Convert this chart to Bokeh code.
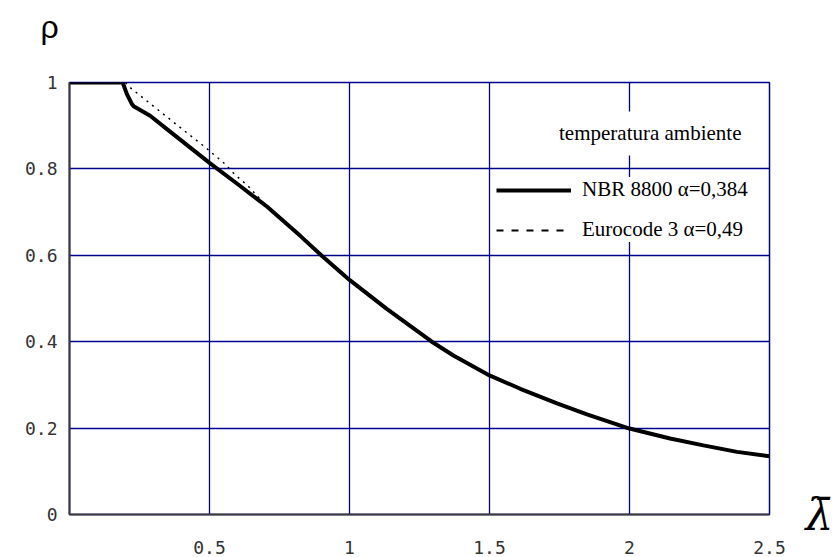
from bokeh.plotting import figure
from bokeh.models import Range1d, FixedTicker, Legend, LegendItem, Label, LinearAxis
from bokeh.embed import file_html
from bokeh.resources import INLINE

# ---- data ----
lam_nbr = [0.0, 0.19, 0.205, 0.223, 0.229, 0.288, 0.348, 0.42, 0.5, 0.6,
           0.705, 0.824, 0.901, 1.0, 1.133, 1.294, 1.371, 1.5, 1.61,
           1.741, 1.848, 2.0, 2.145, 2.264, 2.384, 2.5]
rho_nbr = [1.0, 1.0, 0.973, 0.950, 0.945, 0.923, 0.892, 0.855, 0.814, 0.765,
           0.713, 0.645, 0.599, 0.543, 0.476, 0.40, 0.368, 0.322, 0.291,
           0.257, 0.232, 0.199, 0.176, 0.16, 0.145, 0.135]

lam_ec = [0.0, 0.2, 0.217, 0.395, 0.485, 0.514, 0.556, 0.592, 0.637, 0.705,
          0.824, 0.901, 1.0, 1.133, 1.294, 1.371, 1.5, 1.61, 1.741, 1.848,
          2.0, 2.145, 2.264, 2.384, 2.5]
rho_ec = [1.0, 1.0, 0.988, 0.896, 0.850, 0.834, 0.811, 0.786, 0.761, 0.713,
          0.645, 0.599, 0.543, 0.476, 0.40, 0.368, 0.322, 0.291, 0.257, 0.232,
          0.199, 0.176, 0.16, 0.145, 0.135]

x_ticks = [0.5, 1.0, 1.5, 2.0, 2.5]
x_tick_labels = ["0.5", "1", "1.5", "2", "2.5"]
y_ticks = [0.0, 0.2, 0.4, 0.6, 0.8, 1.0]
y_tick_labels = ["0", "0.2", "0.4", "0.6", "0.8", "1"]

x_title = "λ\u0304"
y_title = "ρ"
label_nbr = "NBR 8800 α=0,384"
label_ec = "Eurocode 3 α=0,49"
legend_title = "temperatura ambiente"

NAVY = "#00008f"
TICK_FONT = "DejaVu Sans Mono"

p = figure(width=839, height=557, output_backend="svg", toolbar_location=None,
           x_range=Range1d(0, 2.5), y_range=Range1d(0, 1),
           min_border_left=69, min_border_right=70, min_border_top=82,
           min_border_bottom=43)

p.background_fill_color = "white"
p.border_fill_color = "white"
p.outline_line_color = NAVY
p.outline_line_width = 1.5

# title used for the rho symbol (second empty line lifts it upward)
p.title.text = y_title + "\n "
p.title.align = "left"
p.title.offset = -29
p.title.standoff = 4
p.title.text_font = "Liberation Sans"
p.title.text_font_style = "normal"
p.title.text_font_size = "32px"
p.title.text_color = "black"

# grid
p.xgrid.ticker = FixedTicker(ticks=x_ticks)
p.ygrid.ticker = FixedTicker(ticks=y_ticks)
for g in (p.xgrid, p.ygrid):
    g.grid_line_color = NAVY
    g.grid_line_width = 1.3
    g.grid_line_alpha = 1.0

# axes
p.xaxis.ticker = FixedTicker(ticks=x_ticks)
p.yaxis.ticker = FixedTicker(ticks=y_ticks)
p.xaxis.major_label_overrides = {t: s for t, s in zip(x_ticks, x_tick_labels)}
p.yaxis.major_label_overrides = {t: s for t, s in zip(y_ticks, y_tick_labels)}
for ax in (p.xaxis, p.yaxis):
    ax.axis_line_color = "#3a3a3a"
    ax.axis_line_width = 2
    ax.major_tick_line_color = None
    ax.minor_tick_line_color = None
    ax.major_label_text_font = TICK_FONT
    ax.major_label_text_font_size = "18px"
    ax.major_label_text_color = "#333333"
p.xaxis.major_label_standoff = 20
p.yaxis.major_label_standoff = 6

# right axis carrying the lambda-bar symbol next to the origin level
r_axis = LinearAxis(ticker=FixedTicker(ticks=[0.0]),
                    major_label_overrides={0.0: x_title})
r_axis.axis_line_color = None
r_axis.major_tick_line_color = None
r_axis.minor_tick_line_color = None
r_axis.major_label_text_font = "DejaVu Serif"
r_axis.major_label_text_font_style = "italic"
r_axis.major_label_text_font_size = "44px"
r_axis.major_label_text_color = "black"
r_axis.major_label_standoff = 30
p.add_layout(r_axis, "right")

# curves
ec = p.line(lam_ec, rho_ec, line_color="black", line_width=1.5, line_dash="2 5")
nbr = p.line(lam_nbr, rho_nbr, line_color="black", line_width=4)
ec_leg = p.line([float("nan")], [float("nan")], line_color="black",
                line_width=2, line_dash="7 8")

legend = Legend(items=[LegendItem(label=label_nbr, renderers=[nbr]),
                       LegendItem(label=label_ec, renderers=[ec_leg])],
                location=(427, 272))
legend.background_fill_color = "white"
legend.background_fill_alpha = 1.0
legend.border_line_color = None
legend.label_text_font = "Liberation Serif"
legend.label_text_font_size = "21px"
legend.label_text_color = "black"
legend.glyph_width = 75
legend.glyph_height = 20
legend.label_height = 20
legend.label_standoff = 11
legend.spacing = 15
legend.padding = 10
legend.margin = 0
p.add_layout(legend)

title_lbl = Label(x=2.4357, y=0.882, text=legend_title, text_align="right",
                  text_baseline="middle", text_font="Liberation Serif",
                  text_font_size="21px", text_color="black",
                  background_fill_color="white", background_fill_alpha=1.0,
                  padding=10)
p.add_layout(title_lbl)

open("out.html", "w").write(file_html(p, INLINE))
